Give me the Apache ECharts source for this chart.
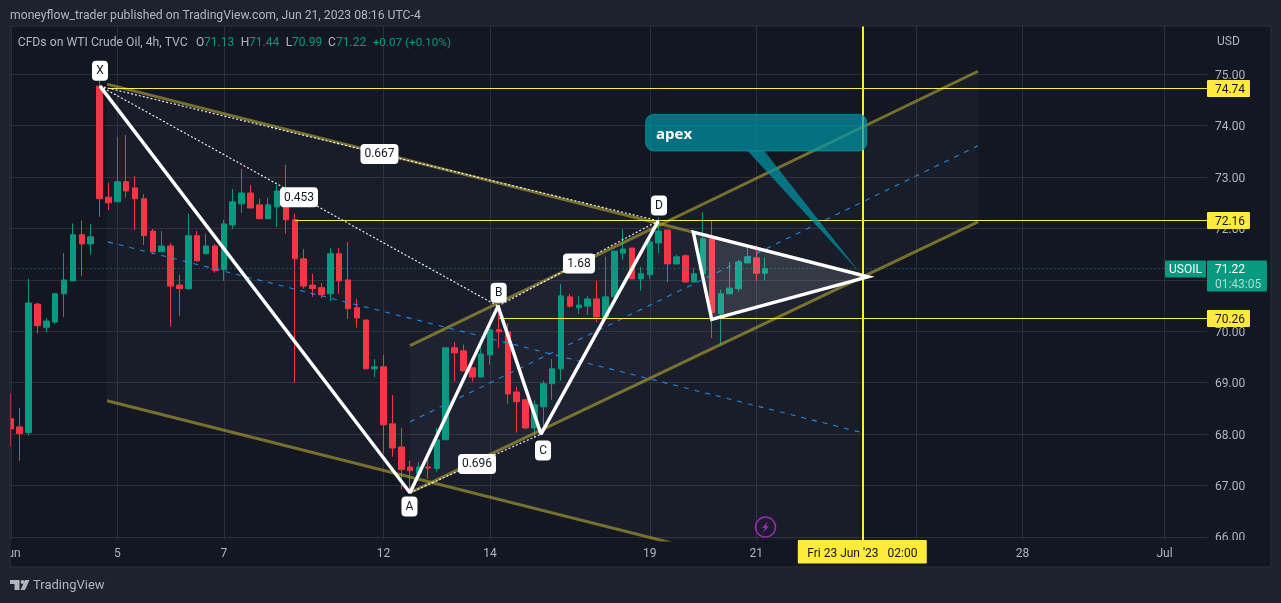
<!DOCTYPE html>
<html><head><meta charset="utf-8">
<style>html,body{margin:0;padding:0;background:#1e222d}#c{width:1281px;height:603px}</style>
<script src="https://cdn.jsdelivr.net/npm/echarts@6/dist/echarts.min.js"></script>
</head><body><div id="c"></div>
<script>
// Candles, one per 4h bar from the left of the pane
const opens  = [68.30,68.14,68.03,70.53,70.08,70.18,70.73,70.98,71.88,71.70,74.77,72.61,72.52,72.91,72.79,72.58,71.95,71.55,71.66,70.90,70.83,71.86,71.51,71.66,71.20,72.07,72.48,72.69,72.46,72.19,72.42,72.73,72.17,71.41,70.90,70.85,70.73,71.51,71.00,70.46,70.22,69.27,69.31,68.20,67.75,67.36,67.24,67.36,67.33,67.89,69.68,69.62,69.29,69.11,69.54,70.03,69.99,68.82,68.67,68.12,68.53,68.98,69.27,70.67,70.46,70.49,70.63,70.28,70.67,71.52,71.62,71.02,71.10,71.72,71.97,71.31,71.47,70.96,71.12,71.80,70.34,70.73,70.83,71.33,71.43,71.13];
const closes = [68.10,68.01,70.55,70.11,70.20,70.73,71.00,71.88,71.70,71.84,72.58,72.50,72.91,72.73,72.58,71.86,71.55,71.66,70.88,70.83,71.86,71.37,71.66,71.18,72.09,72.52,72.69,72.40,72.19,72.46,72.73,72.17,71.41,70.88,70.83,70.71,71.51,70.98,70.44,70.26,69.27,69.31,68.18,67.73,67.31,67.29,67.36,67.34,67.89,69.68,69.58,69.23,69.11,69.56,70.03,69.99,68.78,68.63,68.12,68.57,68.98,69.27,70.69,70.49,70.51,70.63,70.28,70.67,71.56,71.60,71.02,71.12,71.74,71.95,71.31,71.45,70.96,71.12,71.80,70.36,70.73,70.84,71.35,71.45,71.13,71.22];
const lows   = [67.76,67.48,67.97,69.96,69.98,70.15,70.28,70.98,71.08,71.49,72.23,72.36,72.52,72.60,71.97,71.68,71.50,71.55,70.09,70.30,70.81,71.37,71.50,71.14,70.98,71.99,72.30,72.40,72.19,72.19,72.03,71.90,69.00,70.83,70.67,70.65,70.59,70.73,70.24,70.07,69.27,69.11,67.62,67.56,66.92,66.92,67.24,67.13,67.27,67.89,69.02,69.23,69.02,69.11,69.35,69.68,68.59,68.03,68.10,67.93,68.16,68.67,69.04,70.46,70.34,70.32,70.18,70.28,70.67,71.39,71.02,70.79,71.02,71.52,70.96,71.31,70.96,70.96,71.12,69.87,69.74,70.73,70.77,71.33,70.98,70.99];
const highs  = [68.80,68.51,71.02,70.55,70.26,70.75,71.52,72.10,72.15,72.09,74.88,72.89,73.78,73.82,73.02,72.67,71.99,71.95,71.72,71.10,72.29,71.95,71.89,71.70,72.17,72.77,73.16,72.85,72.58,72.60,72.85,73.24,72.29,71.60,71.12,70.94,71.62,71.62,71.74,70.63,70.22,69.46,69.54,68.76,68.12,67.48,67.46,67.60,68.12,69.68,69.79,69.74,69.29,69.74,70.03,70.51,70.16,68.92,68.67,68.65,69.04,69.46,70.92,70.73,70.69,70.69,70.98,71.45,71.56,71.99,71.62,71.25,71.875,72.22,71.97,71.49,71.50,71.23,72.32,72.17,70.81,71.35,71.39,71.64,71.68,71.44];

// Axis contents
const barSlots    = 136;
const timeTicks   = [0,12,24,42,54,72,84,102,114,130];
const timeLabels  = ['Jun','5','7','12','14','19','21','','28','Jul'];
const priceTicks  = [66,67,68,69,70,71,72,73,74,75];
const priceMin = 65.94, priceMax = 75.94, slotMin = -0.5, slotMax = 135.5;
const tagSlot = 134.78;

// Drawings: [bar slot, price]
const harmonicPath   = [[10.05,74.77],[44.98,66.86],[54.9,70.49],[59.74,68.0],[72.96,72.15]];
const dottedXD       = [[10.05,74.77],[72.96,72.15]];
const dottedXB       = [[10.05,74.77],[54.9,70.49]];
const dottedAC       = [[44.98,66.86],[59.74,68.0]];
const dottedBD       = [[54.9,70.49],[72.96,72.15]];
const fallUpper      = [[10.84,74.81],[95.68,71.11]];
const fallLower      = [[10.84,68.65],[95.68,64.96]];
const fallMiddle     = [[10.95,71.74],[95.68,68.04]];
const riseUpper      = [[44.98,69.72],[108.98,75.06]];
const riseLower      = [[44.98,66.86],[108.98,72.13]];
const riseMiddle     = [[44.98,68.24],[108.98,73.61]];
const triangle       = [[76.9,71.93],[96.59,71.06],[78.98,70.23]];
const apexBox        = [[71.54,74.22],[96.44,73.51]];
const apexTail       = [[83.03,73.51],[84.9,73.51],[95.68,71.14]];
const apexTextAt     = [72.7,73.83];
const levels         = [[74.74,10.95],[72.16,32.02],[70.26,55.01]];
const lastPrice      = 71.22;
const lastPriceEnd   = 130.05;
const cursorSlot     = 96;
const cursorText     = "Fri 23 Jun '23   02:00";
const pointLabels = [[10.05,75.07,'X'],[41.54,73.45,'0.667'],[32.47,72.61,'0.453'],[54.97,70.75,'B'],[59.97,67.68,'C'],[73.04,72.45,'D'],[44.92,66.59,'A'],[64.02,71.32,'1.68'],[52.53,67.42,'0.696']];

const font = 'Roboto, "Open Sans", sans-serif';
const UI='#b2b5be', GREEN='#089981', RED='#f23645', YEL='#ffeb3b', GOLD='rgba(178,164,52,0.62)', PANE='#131722', PAGE='#1e222d', GRID='#2a2e39';
const DOT='rgba(255,255,255,0.9)', BLUE='#1e88e5';

function lineS(data,color,width,type,z){
  return {type:'line',xAxisIndex:1,yAxisIndex:0,data,showSymbol:false,symbol:'none',silent:true,animation:false,z:z||3,
    lineStyle:{color,width,type:type||'solid',cap:'butt'},clip:true};
}
function polyS(polys,style,z){
  return {type:'custom',xAxisIndex:1,yAxisIndex:0,silent:true,animation:false,clip:true,z:z||3,
    encode:{x:0,y:1},data:polys.map(p=>p[0]),
    renderItem:(params,api)=>({type:'polygon',shape:{points:polys[params.dataIndex].map(q=>api.coord(q))},style})};
}
const fallFill=[fallUpper[0],fallUpper[1],fallLower[1],fallLower[0]];
const riseFill=[riseUpper[0],riseUpper[1],riseLower[1],riseLower[0]];

const txt=(x,y,text,fill,size)=>({type:'text',z:70,x,y,style:{text,fill,font:(size||12)+'px '+font,textVerticalAlign:'middle'}});

const option={
  animation:false,
  backgroundColor:'transparent',
  grid:{left:6.36,top:26,width:1207,height:514,containLabel:false,outerBoundsMode:'none'},
  xAxis:[
    {type:'category',show:false,data:Array.from({length:barSlots},(_,i)=>String(i)),boundaryGap:true},
    {type:'value',min:slotMin,max:slotMax,position:'bottom',
      axisLine:{show:false},axisTick:{show:false,customValues:timeTicks},
      axisLabel:{customValues:timeTicks,color:UI,fontSize:12,fontFamily:font,margin:8,hideOverlap:false,
        formatter:v=>timeLabels[timeTicks.indexOf(v)]||''},
      splitLine:{show:true,lineStyle:{color:GRID,width:1}}}
  ],
  yAxis:[{type:'value',position:'right',min:priceMin,max:priceMax,
    axisLine:{show:false},axisTick:{show:false,customValues:priceTicks},
    axisLabel:{customValues:priceTicks,margin:1.64,formatter:v=>'{p|'+v.toFixed(2)+'}',
      rich:{p:{color:UI,fontSize:12,fontFamily:font,padding:[3,0,0,0]}}},
    splitLine:{show:true,lineStyle:{color:GRID,width:1}}}],
  series:[
    polyS([fallFill,riseFill],{fill:'rgba(190,200,255,0.035)'},1),
    {type:'candlestick',xAxisIndex:0,yAxisIndex:0,barWidth:6,silent:true,animation:false,z:2,
      data:opens.map((o,i)=>[o,closes[i],lows[i],highs[i]]),
      itemStyle:{color:GREEN,color0:RED,borderColor:GREEN,borderColor0:RED,borderWidth:1}},
    lineS([[slotMin,lastPrice],[lastPriceEnd,lastPrice]],GREEN,1,[1,3]),
    lineS(fallUpper,GOLD,3),lineS(fallLower,GOLD,3),lineS(riseUpper,GOLD,3),lineS(riseLower,GOLD,3),
    lineS(fallMiddle,BLUE,1.1,[5,6]),lineS(riseMiddle,BLUE,1.1,[5,6]),
    lineS(dottedXD,DOT,1.2,[2,2],4),lineS(dottedXB,DOT,1.2,[2,2],4),
    lineS(dottedAC,DOT,1.2,[2,2],4),lineS(dottedBD,DOT,1.2,[2,2],4),
    // horizontal levels + vertical cursor, snapped to whole pixels
    {type:'custom',xAxisIndex:1,yAxisIndex:0,silent:true,animation:false,clip:true,z:4,encode:{x:0,y:1},data:levels.map(l=>[l[1],l[0]]),
      renderItem:(p,api)=>{
        const l=levels[p.dataIndex],a=api.coord([l[1],l[0]]),b=api.coord([tagSlot,l[0]]);
        const y=Math.round(a[1])+0.5;
        return {type:'line',shape:{x1:a[0],y1:y,x2:b[0],y2:y},style:{stroke:YEL,lineWidth:1}};
      }},
    {type:'custom',xAxisIndex:1,yAxisIndex:0,silent:true,animation:false,clip:true,z:4,encode:{x:0,y:1},data:[[cursorSlot,priceMin]],
      renderItem:(p,api)=>{
        const a=api.coord([cursorSlot,priceMin]),b=api.coord([cursorSlot,priceMax]);
        const x=Math.round(a[0]);
        return {type:'line',shape:{x1:x,y1:a[1],x2:x,y2:b[1]},style:{stroke:YEL,lineWidth:2}};
      }},
    lineS(harmonicPath,'#ffffff',3.4,'solid',5),
    polyS([triangle],{fill:'rgba(255,255,255,0.1)',stroke:'#ffffff',lineWidth:3.4,lineJoin:'miter'},5),
    // apex callout
    {type:'custom',xAxisIndex:1,yAxisIndex:0,silent:true,animation:false,clip:false,z:6,encode:{x:0,y:1},data:[apexTextAt],
      renderItem:(p,api)=>{
        const a=api.coord(apexBox[0]),b=api.coord(apexBox[1]);
        const st={fill:'rgba(0,151,167,0.7)',stroke:'rgba(0,151,167,0.85)',lineWidth:1};
        const t=api.coord(apexTextAt);
        return {type:'group',children:[
          {type:'rect',shape:{x:a[0],y:a[1],width:b[0]-a[0],height:b[1]-a[1],r:8},style:st},
          {type:'polygon',shape:{points:apexTail.map(q=>api.coord(q))},style:{fill:st.fill}},
          {type:'text',x:t[0],y:t[1],style:{text:'apex',fill:'#ffffff',font:'bold 15px "Open Sans", sans-serif',textVerticalAlign:'middle'}}
        ]};
      }},
    // white point labels
    {type:'custom',xAxisIndex:1,yAxisIndex:0,silent:true,animation:false,clip:false,z:7,encode:{x:0,y:1},data:pointLabels.map(l=>[l[0],l[1]]),
      renderItem:(p,api)=>{
        const l=pointLabels[p.dataIndex],c=api.coord([l[0],l[1]]);
        const w=l[2].length===1?16:(l[2].length===4?32:38);
        return {type:'group',x:c[0],y:c[1],children:[
          {type:'rect',shape:{x:-w/2,y:-10,width:w,height:20,r:4},style:{fill:'#ffffff'}},
          {type:'text',x:0,y:0.5,style:{text:l[2],fill:'#131722',font:'12px '+font,textAlign:'center',textVerticalAlign:'middle'}}
        ]};
      }},
    // yellow price tags on the axis
    {type:'custom',xAxisIndex:1,yAxisIndex:0,silent:true,animation:false,clip:false,z:8,encode:{x:0,y:1},data:levels.map(l=>[tagSlot,l[0]]),
      renderItem:(p,api)=>{
        const v=levels[p.dataIndex][0],c=api.coord([tagSlot,v]);
        return {type:'group',x:c[0],y:Math.round(c[1])+0.5,children:[
          {type:'rect',shape:{x:0,y:-8.5,width:43,height:17,r:1},style:{fill:YEL}},
          {type:'text',x:8,y:1,style:{text:v.toFixed(2),fill:'#131722',font:'12px '+font,textVerticalAlign:'middle'}}
        ]};
      }},
    // last price tags + cursor date tag
    {type:'custom',xAxisIndex:1,yAxisIndex:0,silent:true,animation:false,clip:false,z:8,encode:{x:0,y:1},data:[[tagSlot,lastPrice]],
      renderItem:(p,api)=>{
        const c=api.coord([tagSlot,lastPrice]);
        const d=api.coord([cursorSlot,priceMin]);
        return {type:'group',children:[
          {type:'group',x:c[0],y:c[1],children:[
            {type:'rect',shape:{x:-42,y:-8,width:41,height:17,r:1},style:{fill:GREEN}},
            {type:'text',x:-21.5,y:1,style:{text:'USOIL',fill:'#ffffff',font:'12px '+font,textAlign:'center',textVerticalAlign:'middle'}},
            {type:'rect',shape:{x:0,y:-8,width:60,height:31,r:1},style:{fill:GREEN}},
            {type:'text',x:8,y:1,style:{text:lastPrice.toFixed(2),fill:'#ffffff',font:'12px '+font,textVerticalAlign:'middle'}},
            {type:'text',x:8,y:16,style:{text:'01:43:05',fill:'#a8dfd3',font:'12px '+font,textVerticalAlign:'middle'}}
          ]},
          {type:'group',x:d[0],y:d[1],children:[
            {type:'rect',shape:{x:-65,y:0,width:129,height:23.5,r:1},style:{fill:YEL}},
            {type:'text',x:-0.5,y:13.5,style:{text:cursorText,fill:'#131722',font:'12px '+font,textAlign:'center',textVerticalAlign:'middle'}}
          ]}
        ]};
      }}
  ],
  graphic:[
    {type:'rect',z:-10,shape:{x:10,y:26,width:1261,height:541},style:{fill:PANE}},
    {type:'rect',z:1,shape:{x:1207,y:540,width:64,height:27},style:{fill:PANE}},
    {type:'rect',z:1,shape:{x:1207,y:26,width:7,height:514},style:{fill:PANE}},
    {type:'rect',z:50,shape:{x:0,y:0,width:10,height:603},style:{fill:PAGE}},
    {type:'rect',z:60,shape:{x:10,y:26,width:1261,height:541},style:{fill:'none',stroke:GRID,lineWidth:1}},
    txt(10,15.7,'moneyflow_trader published on TradingView.com, Jun 21, 2023 08:16 UTC-4',UI,12.2),
    txt(17.7,42.7,'CFDs on WTI Crude Oil, 4h, TVC',UI,12.2),
    txt(196,42.7,'O',UI),txt(204,42.7,'71.13',GREEN),
    txt(240.7,42.7,'H',UI),txt(249,42.7,'71.44',GREEN),
    txt(285.7,42.7,'L',UI),txt(292,42.7,'70.99',GREEN),
    txt(328,42.7,'C',UI),txt(336,42.7,'71.22',GREEN),
    txt(372.7,42.7,'+0.07 (+0.10%)',GREEN,11.7),
    txt(1217,42,'USD',UI),
    {type:'circle',z:70,shape:{cx:765.5,cy:527,r:10},style:{fill:'none',stroke:'#9c27b0',lineWidth:1.5}},
    {type:'polygon',z:70,shape:{points:[[768,521],[762,528],[765,528],[763,533],[769,526],[766,526]]},style:{fill:'#9c27b0'}},
    {type:'polygon',z:70,shape:{points:[[10,580],[19.5,580],[19.5,590],[14.5,590],[14.5,584],[10,584]]},style:{fill:UI}},
    {type:'circle',z:70,shape:{cx:22.5,cy:582,r:2},style:{fill:UI}},
    {type:'polygon',z:70,shape:{points:[[29.5,580],[25,590],[20.5,590],[25,580]]},style:{fill:UI}},
    txt(33,586,'TradingView',UI,13)
  ]
};
const chart=echarts.init(document.getElementById('c'),null,{renderer:'canvas'});
chart.setOption(option);
</script></body></html>
